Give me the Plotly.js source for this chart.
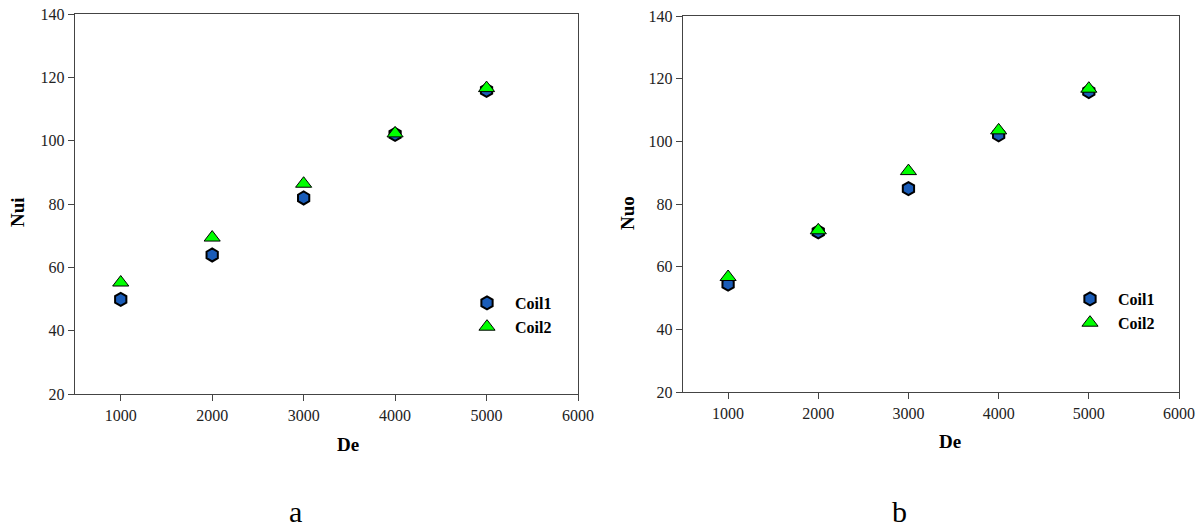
<!DOCTYPE html>
<html><head><meta charset="utf-8">
<script src="https://cdn.plot.ly/plotly-3.0.1.min.js"></script>
<style>html,body{margin:0;padding:0;background:#fff}#chart{width:1203px;height:531px}</style>
</head><body><div id="chart"></div>
<script>
// ---- data ----
const de = [1000, 2000, 3000, 4000, 5000];
const nuiCoil1 = [49.9, 63.9, 81.9, 102.0, 115.9];
const nuiCoil2 = [55.2, 69.4, 86.4, 102.3, 116.6];
const nuoCoil1 = [54.4, 71.1, 84.9, 102.1, 115.9];
const nuoCoil2 = [56.7, 71.6, 90.5, 103.5, 116.8];
const seriesNames = ['Coil1', 'Coil2'];
const xTickVals = [1000, 2000, 3000, 4000, 5000, 6000];
const yTickVals = [20, 40, 60, 80, 100, 120, 140];
const xTitle = 'De';
const yTitles = ['Nui', 'Nuo'];
const panelLabels = ['a', 'b'];

// ---- styles ----
const serif = 'Liberation Serif';
const hexMarker = () => ({symbol: 'hexagon', size: 13, color: '#1a5cb8', line: {color: '#000', width: 2}});
const triMarker = () => ({symbol: 'triangle-up', size: 14, color: '#00ff00', line: {color: '#000', width: 1}});

const traces = [
  {x: de, y: nuiCoil1, name: seriesNames[0], type: 'scatter', mode: 'markers', marker: hexMarker(), xaxis: 'x', yaxis: 'y', legend: 'legend'},
  {x: de, y: nuiCoil2, name: seriesNames[1], type: 'scatter', mode: 'markers', marker: triMarker(), xaxis: 'x', yaxis: 'y', legend: 'legend'},
  {x: de, y: nuoCoil1, name: seriesNames[0], type: 'scatter', mode: 'markers', marker: hexMarker(), xaxis: 'x2', yaxis: 'y2', legend: 'legend2'},
  {x: de, y: nuoCoil2, name: seriesNames[1], type: 'scatter', mode: 'markers', marker: triMarker(), xaxis: 'x2', yaxis: 'y2', legend: 'legend2'}
];

function tickFont() { return {family: serif, size: 16, color: '#222'}; }
function xAxis(domain, anchor) {
  return {domain: domain, anchor: anchor, range: [500, 6000], tickvals: xTickVals,
    ticks: 'outside', ticklen: 6, tickcolor: '#444', showline: true, linecolor: '#444', linewidth: 1.3,
    mirror: true, showgrid: false, zeroline: false, tickfont: tickFont()};
}
function yAxis(domain, anchor) {
  return {domain: domain, anchor: anchor, range: [20, 140], tickvals: yTickVals,
    ticks: 'outside', ticklen: 6, tickcolor: '#444', showline: true, linecolor: '#444', linewidth: 1.3,
    mirror: true, showgrid: false, zeroline: false, tickfont: tickFont()};
}
const W = 1203, H = 531;
const px = v => v / W, py = v => 1 - v / H;
const legendBase = () => ({font: {family: serif, size: 16, color: '#000', weight: 'bold'}, bgcolor: 'rgba(0,0,0,0)',
  borderwidth: 0, itemwidth: 46, tracegroupgap: 0, xanchor: 'left', yanchor: 'top', itemclick: false});

const titleFont = () => ({family: serif, size: 19, color: '#000', weight: 'bold'});
const labelFont = () => ({family: serif, size: 30, color: '#000'});
const layout = {
  width: W, height: H, margin: {l: 0, r: 0, t: 0, b: 0},
  font: {family: serif},
  paper_bgcolor: '#fff', plot_bgcolor: '#fff', showlegend: true,
  xaxis: xAxis([px(75), px(578)], 'y'),
  yaxis: yAxis([py(394), py(14)], 'x'),
  xaxis2: xAxis([px(683), px(1179)], 'y2'),
  yaxis2: yAxis([py(392), py(16)], 'x2'),
  legend: Object.assign(legendBase(), {x: px(459), y: py(286)}),
  legend2: Object.assign(legendBase(), {x: px(1062), y: py(282)}),
  annotations: [
    {text: xTitle, xref: 'paper', yref: 'paper', x: px(348), y: py(444), showarrow: false, font: titleFont(), xanchor: 'center', yanchor: 'middle'},
    {text: xTitle, xref: 'paper', yref: 'paper', x: px(950), y: py(441), showarrow: false, font: titleFont(), xanchor: 'center', yanchor: 'middle'},
    {text: yTitles[0], xref: 'paper', yref: 'paper', x: px(18), y: py(212), showarrow: false, font: titleFont(), textangle: -90, xanchor: 'center', yanchor: 'middle'},
    {text: yTitles[1], xref: 'paper', yref: 'paper', x: px(628), y: py(213), showarrow: false, font: titleFont(), textangle: -90, xanchor: 'center', yanchor: 'middle'},
    {text: panelLabels[0], xref: 'paper', yref: 'paper', x: px(295), y: py(511), showarrow: false, font: labelFont(), xanchor: 'center', yanchor: 'middle'},
    {text: panelLabels[1], xref: 'paper', yref: 'paper', x: px(899), y: py(511), showarrow: false, font: labelFont(), xanchor: 'center', yanchor: 'middle'}
  ]
};
Plotly.newPlot('chart', traces, layout, {displayModeBar: false, staticPlot: true});
</script></body></html>
